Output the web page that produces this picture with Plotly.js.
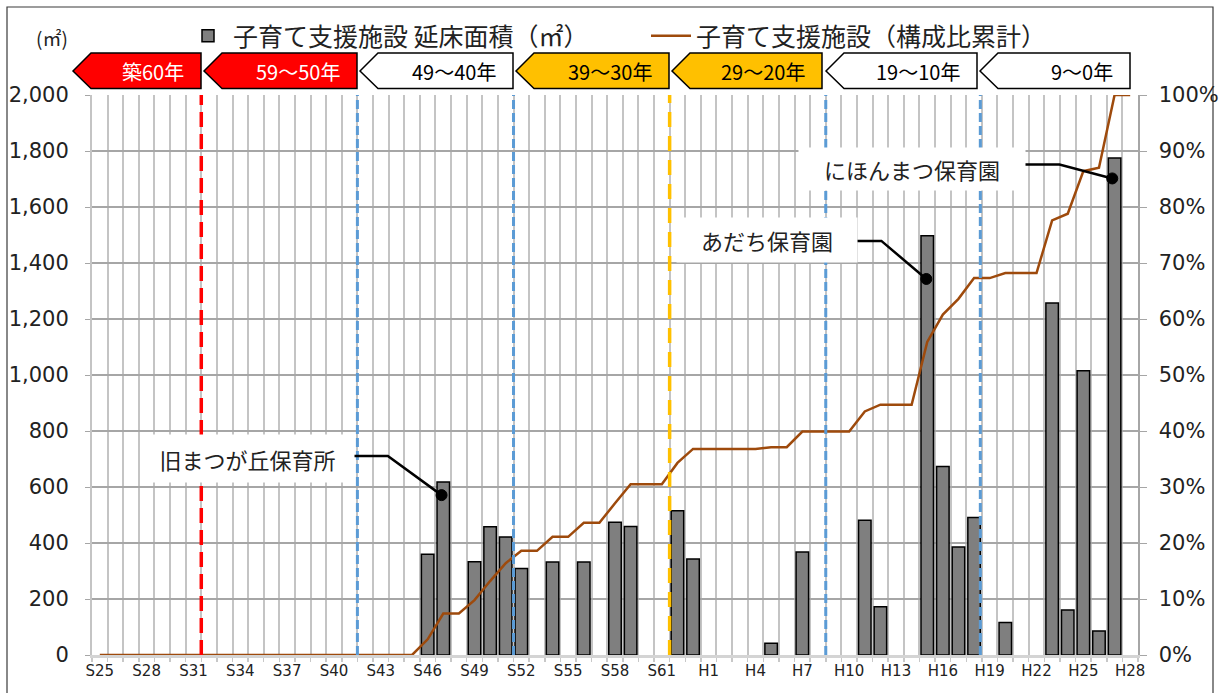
<!DOCTYPE html>
<html>
<head>
<meta charset="utf-8">
<script src="https://cdn.plot.ly/plotly-3.0.1.min.js"></script>
<style>html,body{margin:0;padding:0;background:#fff;}#chart{width:1220px;height:693px;}</style>
</head>
<body>
<div id="chart"></div>
<script>
// ---- data ----
const categories = [
 "S25","S26","S27","S28","S29","S30","S31","S32","S33","S34",
 "S35","S36","S37","S38","S39","S40","S41","S42","S43","S44",
 "S45","S46","S47","S48","S49","S50","S51","S52","S53","S54",
 "S55","S56","S57","S58","S59","S60","S61","S62","S63",
 "H1","H2","H3","H4","H5","H6","H7","H8","H9","H10",
 "H11","H12","H13","H14","H15","H16","H17","H18","H19","H20",
 "H21","H22","H23","H24","H25","H26","H27","H28"
];
const floorArea = [
 null,null,null,null,null,null,null,null,null,null,
 null,null,null,null,null,null,null,null,null,null,
 null,360,618,null,333,458,421,309,null,332,
 null,332,null,474,459,null,null,515,343,
 null,null,null,null,42,null,368,null,null,null,
 481,172,null,null,1497,673,386,491,null,116,
 null,null,1257,161,1015,86,1775,null
];
const cumulativeRatio = [
 0,0,0,0,0,0,0,0,0,0,
 0,0,0,0,0,0,0,0,0,0,
 0,2.8,7.4,7.4,9.8,13.2,16.4,18.6,18.6,21.1,
 21.1,23.6,23.6,27.1,30.5,30.5,30.5,34.3,36.8,
 36.8,36.8,36.8,36.8,37.1,37.1,39.9,39.9,39.9,39.9,
 43.5,44.7,44.7,44.7,55.9,60.8,63.6,67.3,67.3,68.2,
 68.2,68.2,77.6,78.8,86.4,87.0,100,100
];
const tickLabels = ["S25","S28","S31","S34","S37","S40","S43","S46","S49","S52","S55","S58","S61",
 "H1","H4","H7","H10","H13","H16","H19","H22","H25","H28"];
const eraLabels = ["築60年","59～50年","49～40年","39～30年","29～20年","19～10年","9～0年"];
const calloutLabels = ["旧まつが丘保育所","あだち保育園","にほんまつ保育園"];
const seriesNames = ["子育て支援施設 延床面積（㎡）","子育て支援施設（構成比累計）"];

// ---- layout helpers ----
const W = 1220, H = 693;
const M = {l:92, r:82, t:95, b:38};
const PW = W - M.l - M.r, PH = H - M.t - M.b;
const px = p => (p - M.l) / PW;
const py = p => 1 - (p - M.t) / PH;

const xIdx = categories.map((c, i) => i);
const tickVals = tickLabels.map(t => categories.indexOf(t));

const jp = '"Noto Sans CJK JP", "Noto Sans", sans-serif';
const num = '"DejaVu Sans", sans-serif';

const traces = [
 {
  type: 'bar', name: seriesNames[0], x: xIdx, y: floorArea,
  marker: {color: '#7F7F7F', line: {color: '#000', width: 1.5}},
  hoverinfo: 'skip'
 },
 {
  type: 'scatter', mode: 'lines', name: seriesNames[1], x: xIdx, y: cumulativeRatio,
  yaxis: 'y2', line: {color: '#9E4A0C', width: 2.5}, hoverinfo: 'skip'
 }
];

// era boxes (arrow shapes) - pixel geometry
const eraBoxes = [
 {tip: 73, right: 201, fill: '#FF0000', text: '#FFFFFF'},
 {tip: 204, right: 357, fill: '#FF0000', text: '#FFFFFF'},
 {tip: 360, right: 513, fill: '#FFFFFF', text: '#000000'},
 {tip: 516, right: 669, fill: '#FFC000', text: '#000000'},
 {tip: 672, right: 822, fill: '#FFC000', text: '#000000'},
 {tip: 826, right: 977, fill: '#FFFFFF', text: '#000000'},
 {tip: 980, right: 1130, fill: '#FFFFFF', text: '#000000'}
];
const bTop = 53, bBot = 88.5, bMid = 71, tipDepth = 18;

const shapes = [];
const annotations = [];

// outer frame
shapes.push({type: 'path', xref: 'paper', yref: 'paper',
 path: `M ${px(7)},${py(693)} L ${px(7)},${py(7)} L ${px(1213)},${py(7)} L ${px(1213)},${py(693)}`,
 line: {color: '#3a3a3a', width: 1.2}, layer: 'below'});

// era dashed boundaries
const eraLines = [
 {x: 6.5, color: '#FF0000', width: 3.5, dash: '15px,7px'},
 {x: 16.5, color: '#5B9BD5', width: 3, dash: '9px,4px'},
 {x: 26.5, color: '#5B9BD5', width: 3, dash: '9px,4px'},
 {x: 36.5, color: '#FFC000', width: 3.5, dash: '15px,9px'},
 {x: 46.5, color: '#5B9BD5', width: 3, dash: '9px,4px'},
 {x: 56.4, color: '#5B9BD5', width: 3, dash: '9px,4px'}
];
eraLines.forEach(l => shapes.push({type: 'line', xref: 'x', yref: 'paper', x0: l.x, x1: l.x, y0: 0, y1: 1,
 line: {color: l.color, width: l.width, dash: l.dash}, layer: 'above'}));

eraBoxes.forEach((b, i) => {
 const body = b.tip + tipDepth;
 shapes.push({type: 'path', xref: 'paper', yref: 'paper',
  path: `M ${px(b.tip)},${py(bMid)} L ${px(body)},${py(bTop)} L ${px(b.right)},${py(bTop)} L ${px(b.right)},${py(bBot)} L ${px(body)},${py(bBot)} Z`,
  fillcolor: b.fill, line: {color: '#000', width: 1.5}, layer: 'above'});
 annotations.push({xref: 'paper', yref: 'paper', x: px(b.right - 15), y: py(bMid + 1), xanchor: 'right', yanchor: 'middle',
  text: eraLabels[i], showarrow: false, font: {family: jp, size: 20, color: b.text}});
});

// callouts
const callouts = [
 {box: [137, 350, 435, 482], path: [[16.02, 711], [18.45, 711], [21.89, 571]]},
 {box: [673, 853, 218, 262], path: [[48.14, 1479], [50.06, 1479], [52.94, 1343]]},
 {box: [795, 1021, 148, 190], path: [[58.87, 1752], [61.47, 1752], [64.85, 1702]]}
];
callouts.forEach((c, i) => {
 const [x0, x1, y0, y1] = c.box;
 annotations.push({xref: 'paper', yref: 'paper', x: px((x0 + x1) / 2 + 4), y: py((y0 + y1) / 2), xanchor: 'center', yanchor: 'middle',
  width: x1 - x0, height: y1 - y0, bgcolor: '#FFFFFF', borderpad: 0, showarrow: false,
  text: calloutLabels[i], font: {family: jp, size: 22, color: '#222'}});
 const p = c.path;
 shapes.push({type: 'path', xref: 'x', yref: 'y',
  path: `M ${p[0][0]},${p[0][1]} L ${p[1][0]},${p[1][1]} L ${p[2][0]},${p[2][1]}`,
  line: {color: '#000', width: 2.5}, layer: 'above'});
 shapes.push({type: 'circle', xref: 'x', yref: 'y', xsizemode: 'pixel', ysizemode: 'pixel',
  xanchor: p[2][0], yanchor: p[2][1], x0: -5.5, x1: 5.5, y0: -5.5, y1: 5.5,
  fillcolor: '#000', line: {color: '#000', width: 1}, layer: 'above'});
});

// unit label
annotations.push({xref: 'paper', yref: 'paper', x: px(52), y: py(38), xanchor: 'center', yanchor: 'middle',
 text: '(㎡)', showarrow: false, font: {family: jp, size: 19, color: '#222'}});

const layout = {
 width: W, height: H,
 margin: {l: M.l, r: M.r, t: M.t, b: M.b, pad: 0},
 paper_bgcolor: '#fff', plot_bgcolor: '#fff',
 bargap: 0.2,
 showlegend: true,
 legend: {orientation: 'h', x: px(183), xanchor: 'left', y: py(36), yanchor: 'middle',
  font: {family: jp, size: 25, color: '#222'}, bgcolor: 'rgba(0,0,0,0)',
  entrywidth: 408, entrywidthmode: 'pixels', itemwidth: 40},
 xaxis: {
  type: 'linear', range: [-0.5, 66.5], fixedrange: true,
  tickmode: 'array', tickvals: tickVals, ticktext: tickLabels, ticks: '',
  showgrid: false, zeroline: false,
  showline: true, linecolor: '#D4D4D4', linewidth: 3,
  tickfont: {family: num, size: 15, color: '#222'},
  minor: {tickmode: 'linear', tick0: 0.5, dtick: 1, ticks: 'outside', ticklen: 4, tickcolor: '#C8C8C8', tickwidth: 1.5,
   showgrid: true, gridcolor: '#C4C4C4', gridwidth: 2}
 },
 yaxis: {
  range: [0, 2000], dtick: 200, tickformat: ',d', fixedrange: true,
  showgrid: true, gridcolor: '#A6A6A6', gridwidth: 1.3, zeroline: false,
  showline: true, linecolor: '#C4C4C4', linewidth: 2,
  ticks: 'outside', ticklen: 5, tickcolor: '#A6A6A6', ticklabelstandoff: 12,
  tickfont: {family: num, size: 21, color: '#222'}
 },
 yaxis2: {
  overlaying: 'y', side: 'right', range: [0, 100], dtick: 10, ticksuffix: '%', fixedrange: true,
  showgrid: false, zeroline: false,
  showline: true, linecolor: '#A6A6A6', linewidth: 1.5,
  ticks: 'outside', ticklen: 7, tickcolor: '#A6A6A6', ticklabelstandoff: 8,
  tickfont: {family: num, size: 21, color: '#222'}
 },
 shapes: shapes,
 annotations: annotations
};

Plotly.newPlot('chart', traces, layout, {displayModeBar: false, staticPlot: true});
</script>
</body>
</html>
